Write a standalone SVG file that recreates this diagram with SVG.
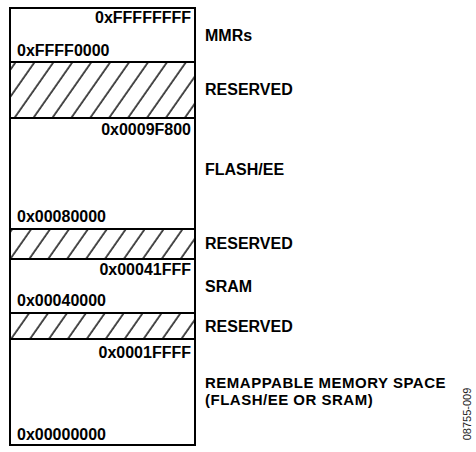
<svg xmlns="http://www.w3.org/2000/svg" width="476" height="452" viewBox="0 0 476 452">
<style>
.box{fill:#fff;stroke:#000;stroke-width:2}
.hat{fill:url(#hatch);stroke:#000;stroke-width:2}
.t{font-family:"Liberation Sans",Arial,sans-serif;font-weight:bold;font-size:16px;fill:#000}
.s{font-size:15px;letter-spacing:0.5px}
.r{text-anchor:end}
.id{font-family:"Liberation Sans",Arial,sans-serif;font-size:11px;fill:#222}
</style>
<defs>
<pattern id="hatch" patternUnits="userSpaceOnUse" width="15.5" height="15.5" patternTransform="rotate(35)">
<line x1="2" y1="-2" x2="2" y2="18" stroke="#000" stroke-width="1.4"/>
</pattern>
</defs>
<rect width="476" height="452" fill="#fff"/>
<g id="mmrs">
<rect class="box" x="10" y="8" width="185" height="54"/>
<text class="t r" x="191" y="23">0xFFFFFFFF</text>
<text class="t" x="17" y="56">0xFFFF0000</text>
<text class="t" x="205" y="41">MMRs</text>
</g>
<g id="reserved1">
<rect class="hat" x="10" y="62" width="185" height="56"/>
<text class="t" x="205" y="95">RESERVED</text>
</g>
<g id="flash">
<rect class="box" x="10" y="118" width="185" height="111"/>
<text class="t r" x="191" y="135">0x0009F800</text>
<text class="t" x="17" y="222">0x00080000</text>
<text class="t" x="205" y="175">FLASH/EE</text>
</g>
<g id="reserved2">
<rect class="hat" x="10" y="229" width="185" height="30"/>
<text class="t" x="205" y="249">RESERVED</text>
</g>
<g id="sram">
<rect class="box" x="10" y="259" width="185" height="54"/>
<text class="t r" x="191" y="275">0x00041FFF</text>
<text class="t" x="17" y="306">0x00040000</text>
<text class="t" x="205" y="292">SRAM</text>
</g>
<g id="reserved3">
<rect class="hat" x="10" y="313" width="185" height="26"/>
<text class="t" x="205" y="332">RESERVED</text>
</g>
<g id="remap">
<rect class="box" x="10" y="339" width="185" height="106"/>
<text class="t r" x="191" y="358">0x0001FFFF</text>
<text class="t" x="17" y="440">0x00000000</text>
<text class="t s" x="205" y="388">REMAPPABLE MEMORY SPACE</text>
<text class="t s" x="205" y="405">(FLASH/EE OR SRAM)</text>
</g>
<g id="connectors"></g>
<text class="id" transform="translate(471,414) rotate(-90)" text-anchor="middle">08755-009</text>
</svg>
